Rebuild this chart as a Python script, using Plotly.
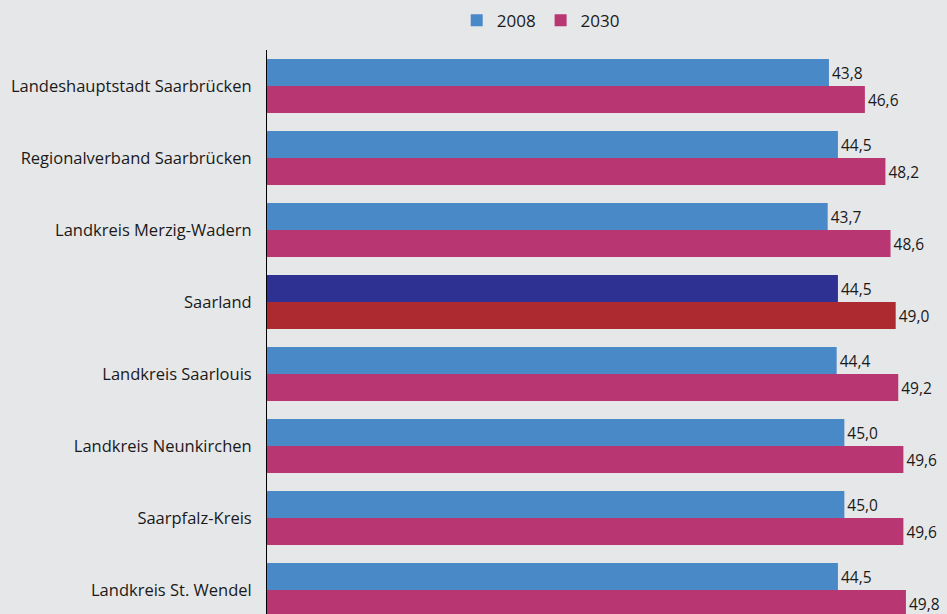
import plotly.graph_objects as go

# Average age by district, Saarland 2008 vs 2030
regions = [
    "Landeshauptstadt Saarbrücken",
    "Regionalverband Saarbrücken",
    "Landkreis Merzig-Wadern",
    "Saarland",
    "Landkreis Saarlouis",
    "Landkreis Neunkirchen",
    "Saarpfalz-Kreis",
    "Landkreis St. Wendel",
]
age_2008 = [43.8, 44.5, 43.7, 44.5, 44.4, 45.0, 45.0, 44.5]
age_2030 = [46.6, 48.2, 48.6, 49.0, 49.2, 49.6, 49.6, 49.8]

# Saarland as a whole gets darker colours
col_2008 = ['#2e3191' if r == "Saarland" else '#4a89c8' for r in regions]
col_2030 = ['#ad2a30' if r == "Saarland" else '#b83772' for r in regions]


def fmt(v):
    return f"{v:.1f}".replace('.', ',')


fig = go.Figure()

fig.add_trace(
    go.Bar(
        y=regions,
        x=age_2008,
        name='2008',
        orientation='h',
        marker=dict(color=col_2008, line=dict(width=0)),
        text=[fmt(v) for v in age_2008],
        textposition='outside',
        cliponaxis=False,
        textfont=dict(size=15.5, color='#1a1a1a'),
    )
)

fig.add_trace(
    go.Bar(
        y=regions,
        x=age_2030,
        name='2030',
        orientation='h',
        marker=dict(color=col_2030, line=dict(width=0)),
        text=[fmt(v) for v in age_2030],
        textposition='outside',
        cliponaxis=False,
        textfont=dict(size=15.5, color='#1a1a1a'),
    )
)

fig.update_layout(
    width=947,
    height=614,
    margin=dict(l=267, r=0, t=50, b=0),
    paper_bgcolor='#e6e7e9',
    plot_bgcolor='#e6e7e9',
    font=dict(family='Open Sans, Noto Sans, sans-serif', size=16, color='#1a1a1a'),
    barmode='group',
    bargap=0.25,
    bargroupgap=0,
    showlegend=True,
    legend=dict(
        orientation='h',
        x=0.279,
        xanchor='left',
        y=1.084,
        yanchor='top',
        font=dict(size=17),
        bgcolor='rgba(0,0,0,0)',
        itemwidth=30,
        traceorder='normal',
    ),
    xaxis=dict(range=[0, 53], visible=False, fixedrange=True),
    yaxis=dict(
        categoryorder='array',
        categoryarray=regions,
        range=[7.333, -0.5],
        showline=True,
        linecolor='black',
        linewidth=1,
        showgrid=False,
        ticks='',
        ticklabelstandoff=11,
        tickfont=dict(size=16.5),
        fixedrange=True,
    ),
)

# drop the browser's default page margin so the figure fills the window
fig.write_html(
    "out.html",
    config={'displayModeBar': False},
    post_script="document.body.style.margin='0';",
)
